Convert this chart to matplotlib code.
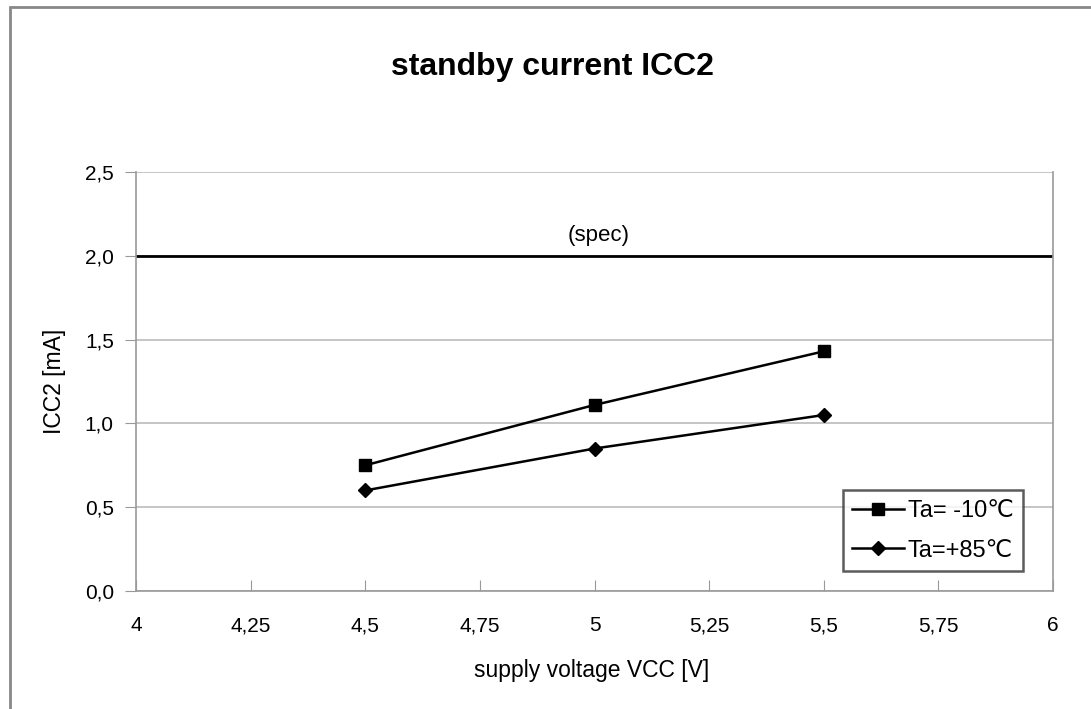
import numpy as np
import matplotlib.pyplot as plt
from matplotlib.patches import Rectangle

plt.rcParams['font.family'] = ['Liberation Sans', 'DejaVu Sans']

# data
vcc = [4.5, 5.0, 5.5]
icc_cold = [0.75, 1.11, 1.43]
icc_hot = [0.60, 0.85, 1.05]
spec_limit = 2.0
x_ticks = [4, 4.25, 4.5, 4.75, 5, 5.25, 5.5, 5.75, 6]
x_labels = ['4', '4,25', '4,5', '4,75', '5', '5,25', '5,5', '5,75', '6']
y_ticks = [0, 0.5, 1.0, 1.5, 2.0, 2.5]
y_labels = ['0,0', '0,5', '1,0', '1,5', '2,0', '2,5']

W, H = 1091, 709
fig = plt.figure(figsize=(W/100, H/100), dpi=100)
ax = fig.add_axes([136/W, 1 - 591/H, 917/W, 419/H])

# outer chart frame
fig.patches.append(Rectangle((10/W, -0.1), 1.2, 1 - 7/H + 0.1,
                             transform=fig.transFigure, fill=False,
                             edgecolor='#888888', linewidth=2))

ax.set_xlim(4, 6)
ax.set_ylim(0, 2.5)
ax.set_yticks(y_ticks)
ax.set_yticklabels(y_labels, fontsize=15)
ax.set_xticks(x_ticks)
ax.set_xticklabels(x_labels, fontsize=15)
ax.tick_params(axis='x', direction='in', length=8, color='#999999', pad=18)
ax.tick_params(axis='y', direction='out', length=8, color='#999999', pad=8)
ax.yaxis.grid(True, color='#bbbbbb', linewidth=1.2)
ax.set_axisbelow(True)
for s in ['left', 'bottom', 'right']:
    ax.spines[s].set_color('#999999')
    ax.spines[s].set_linewidth(1.2)
ax.spines['top'].set_visible(False)

ax.axhline(spec_limit, color='black', linewidth=2)
ax.text(5.01, spec_limit + 0.06, '(spec)', ha='center', va='bottom', fontsize=16)

ax.plot(vcc, icc_cold, color='black', linewidth=1.8, marker='s', markersize=9,
        label='Ta= -10\u2103')
ax.plot(vcc, icc_hot, color='black', linewidth=1.8, marker='D', markersize=7,
        label='Ta=+85\u2103')

leg = ax.legend(loc='lower left', bbox_to_anchor=((843 - 136)/917, (591 - 571)/419),
                fontsize=17, frameon=True, fancybox=False, edgecolor='#333333',
                handlelength=2.2, handletextpad=0.15, borderpad=0.4,
                labelspacing=0.75, borderaxespad=0)
leg.get_frame().set_linewidth(1.8)

fig.text(552/W, 1 - 67/H, 'standby current ICC2', fontsize=23, fontweight='bold',
         ha='center', va='center')
fig.text(592/W, 1 - 670/H, 'supply voltage VCC [V]', fontsize=16.5,
         ha='center', va='center')
fig.text(54/W, 1 - 381/H, 'ICC2 [mA]', fontsize=16.5, rotation=90,
         ha='center', va='center')

fig.savefig('out.png', dpi=100)
